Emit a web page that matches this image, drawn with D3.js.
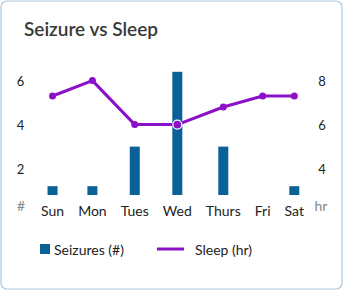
<!DOCTYPE html>
<html>
<head>
<meta charset="utf-8">
<script src="https://cdn.jsdelivr.net/npm/d3@7"></script>
<style>
  html, body { margin: 0; padding: 0; background: #fff; }
  svg { display: block; font-family: Lato, "Open Sans", sans-serif; }
</style>
</head>
<body>
<svg id="chart" width="343" height="290"></svg>
<script>
// data
const days = ["Sun", "Mon", "Tues", "Wed", "Thurs", "Fri", "Sat"];
const seizures = [1.2, 1.2, 3, 6.4, 3, 0, 1.2];
const sleep = [7.3, 8, 6, 6, 6.8, 7.3, 7.3];
const leftTicks = [2, 4, 6];
const rightTicks = [4, 6, 8];
const highlightDay = "Wed";

const barColor = "#0a6197";
const lineColor = "#8b10c8";

const width = 343, height = 290;
const svg = d3.select("#chart");

// card
svg.append("rect")
  .attr("x", 1).attr("y", 1)
  .attr("width", width - 2).attr("height", height - 2)
  .attr("rx", 6)
  .attr("fill", "#fff")
  .attr("stroke", "#aac8dc")
  .attr("stroke-width", 1.2);

svg.append("text")
  .attr("x", 24).attr("y", 36)
  .attr("font-size", 19)
  .attr("font-weight", 600)
  .attr("fill", "#383838")
  .text("Seizure vs Sleep");

const plot = { top: 63, bottom: 195, left: 41, right: 304 };

// left (#) and right (hr) scales share the same pixel range
const yLeft = d3.scaleLinear().domain([0.8, 6.8]).range([plot.bottom, plot.top]);
const yRight = d3.scaleLinear().domain([2.8, 8.8]).range([plot.bottom, plot.top]);

// day labels laid out with space-between, like the original flex row
const labelG = svg.append("g")
  .attr("font-size", 14)
  .attr("fill", "#222");
const labels = labelG.selectAll("text")
  .data(days)
  .join("text")
  .attr("text-anchor", "middle")
  .attr("dominant-baseline", "central")
  .attr("y", 210)
  .text(d => d);

const widths = labels.nodes().map(n => n.getComputedTextLength());
const gap = (plot.right - plot.left - d3.sum(widths)) / (days.length - 1);
let cursor = plot.left;
const centers = widths.map(w => {
  const c = cursor + w / 2;
  cursor += w + gap;
  return c;
});
const x = d3.scaleOrdinal().domain(days).range(centers);
labels.attr("x", d => x(d));

// axis tick labels
svg.append("g")
  .attr("font-size", 13)
  .attr("fill", "#222")
  .selectAll("text")
  .data(leftTicks)
  .join("text")
  .attr("x", 20.5)
  .attr("y", d => yLeft(d))
  .attr("text-anchor", "middle")
  .attr("dominant-baseline", "central")
  .text(d => d);

svg.append("g")
  .attr("font-size", 13)
  .attr("fill", "#222")
  .selectAll("text")
  .data(rightTicks)
  .join("text")
  .attr("x", 322)
  .attr("y", d => yRight(d))
  .attr("text-anchor", "middle")
  .attr("dominant-baseline", "central")
  .text(d => d);

svg.append("text")
  .attr("x", 21).attr("y", 205)
  .attr("text-anchor", "middle")
  .attr("dominant-baseline", "central")
  .attr("font-size", 14)
  .attr("fill", "#888")
  .text("#");

svg.append("text")
  .attr("x", 321).attr("y", 205)
  .attr("text-anchor", "middle")
  .attr("dominant-baseline", "central")
  .attr("font-size", 14)
  .attr("fill", "#888")
  .text("hr");

// bars
const barW = 10;
svg.append("g")
  .selectAll("rect")
  .data(days.map((d, i) => ({ day: d, v: seizures[i] })))
  .join("rect")
  .attr("x", d => x(d.day) - barW / 2)
  .attr("y", d => Math.min(yLeft(d.v), plot.bottom))
  .attr("width", barW)
  .attr("height", d => Math.max(0, plot.bottom - yLeft(d.v)))
  .attr("fill", barColor);

// sleep line
const sleepData = days.map((d, i) => ({ day: d, v: sleep[i] }));
const line = d3.line()
  .x(d => x(d.day))
  .y(d => yRight(d.v));

svg.append("path")
  .datum(sleepData)
  .attr("d", line)
  .attr("fill", "none")
  .attr("stroke", lineColor)
  .attr("stroke-width", 3)
  .attr("stroke-linejoin", "round");

svg.append("g")
  .selectAll("circle")
  .data(sleepData)
  .join("circle")
  .attr("cx", d => x(d.day))
  .attr("cy", d => yRight(d.v))
  .attr("r", d => d.day === highlightDay ? 4.5 : 3.5)
  .attr("fill", lineColor)
  .attr("stroke", d => d.day === highlightDay ? "#fff" : "none")
  .attr("stroke-width", 1.2);

// legend
const legend = svg.append("g").attr("font-size", 14).attr("fill", "#222");
legend.append("rect")
  .attr("x", 40).attr("y", 244)
  .attr("width", 10).attr("height", 10)
  .attr("fill", barColor);
legend.append("text")
  .attr("x", 54).attr("y", 249)
  .attr("dominant-baseline", "central")
  .text("Seizures (#)");
legend.append("line")
  .attr("x1", 157).attr("x2", 184)
  .attr("y1", 249).attr("y2", 249)
  .attr("stroke", lineColor)
  .attr("stroke-width", 3);
legend.append("text")
  .attr("x", 195).attr("y", 249)
  .attr("dominant-baseline", "central")
  .text("Sleep (hr)");
</script>
</body>
</html>
